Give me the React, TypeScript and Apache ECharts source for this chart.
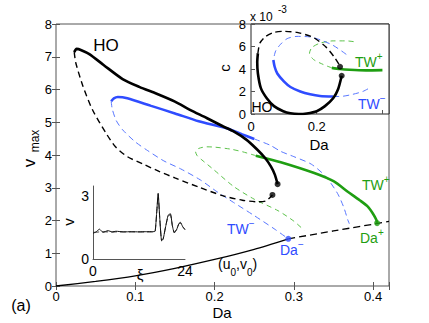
import React, { useEffect, useRef } from "react";
import * as echarts from "echarts";

// ---------- main panel data (Da, v_max) ----------
const hoSolid = [
  [0.023, 7.14], [0.026, 7.24], [0.032, 7.2], [0.042, 7.08], [0.06, 6.75], [0.084, 6.32],
  [0.105, 6.08], [0.127, 5.87], [0.15, 5.63], [0.169, 5.38], [0.19, 5.13], [0.211, 4.87],
  [0.224, 4.72], [0.24, 4.47], [0.254, 4.16], [0.264, 3.9], [0.271, 3.65], [0.276, 3.4], [0.2795, 3.11],
];
const hoDashed = [
  [0.023, 7.14], [0.025, 6.81], [0.034, 6.1], [0.046, 5.38], [0.063, 4.67], [0.075, 4.25],
  [0.09, 3.95], [0.11, 3.72], [0.13, 3.5], [0.15, 3.3], [0.18, 3.02], [0.21, 2.76],
  [0.235, 2.62], [0.255, 2.57], [0.265, 2.6], [0.273, 2.78],
];
const twMinusSolid = [
  [0.0696, 5.64], [0.073, 5.73], [0.078, 5.77], [0.09, 5.73], [0.12, 5.5], [0.15, 5.27],
  [0.18, 5.03], [0.215, 4.82], [0.235, 4.63], [0.25, 4.49],
];
const twMinusDashedUpper = [
  [0.25, 4.49], [0.27, 4.3], [0.2835, 4.11], [0.3, 3.95], [0.322, 3.72], [0.34, 3.35],
  [0.355, 2.83], [0.363, 2.4], [0.368, 2.02], [0.37, 1.9],
];
const twMinusDashedLower = [
  [0.0696, 5.64], [0.071, 5.4], [0.076, 5.05], [0.084, 4.77], [0.1, 4.4], [0.114, 4.16],
  [0.136, 3.82], [0.157, 3.58], [0.182, 3.24], [0.203, 2.88], [0.224, 2.55], [0.25, 2.15],
  [0.275, 1.75], [0.293, 1.44],
];
const twPlusSolid = [
  [0.252, 3.98], [0.2835, 3.78], [0.3257, 3.45], [0.35, 3.2], [0.368, 2.88], [0.383, 2.62],
  [0.393, 2.43], [0.4, 2.2], [0.404, 2.02], [0.405, 1.92],
];
const twPlusDashed = [
  [0.252, 3.98], [0.235, 4.1], [0.22, 4.18], [0.2, 4.24], [0.19, 4.25], [0.18, 4.2],
  [0.176, 4.1], [0.178, 3.98], [0.184, 3.85], [0.199, 3.55], [0.224, 3.04], [0.25, 2.65],
  [0.28, 2.3], [0.3, 1.98], [0.313, 1.7],
];
const u0v0Solid = [
  [0, 0], [0.05, 0.14], [0.1, 0.31], [0.15, 0.54], [0.2, 0.81], [0.25, 1.12], [0.293, 1.44],
];
const u0v0Dashed = [[0.293, 1.44], [0.35, 1.68], [0.42, 1.97]];
const hoEnds = [[0.2795, 3.11], [0.273, 2.78]];
const daMinus = [[0.293, 1.44]];
const daPlus = [[0.405, 1.92]];

// ---------- inset (Da, c x 1e-3) ----------
const insHoSolid = [
  [0.021, 5.4], [0.019, 4.6], [0.021, 3.6], [0.03, 2.3], [0.048, 1.4], [0.07, 0.7],
  [0.098, 0.25], [0.12, 0.06], [0.145, 0], [0.17, 0.05], [0.2, 0.25], [0.225, 0.7],
  [0.25, 1.4], [0.265, 2.2], [0.276, 3.4],
];
const insHoDashed = [
  [0.021, 5.4], [0.027, 6.3], [0.045, 6.9], [0.07, 7.25], [0.1, 7.35], [0.14, 7.25],
  [0.19, 6.8], [0.23, 5.9], [0.255, 5.0], [0.268, 4.4], [0.271, 4.2],
];
const insTwMinusDashedUpper = [
  [0.29, 5.3], [0.25, 6.1], [0.21, 6.6], [0.18, 6.85], [0.14, 6.9], [0.11, 6.7],
  [0.09, 6.2], [0.075, 5.6], [0.068, 4.8],
];
const insTwMinusSolid = [
  [0.068, 4.8], [0.072, 4.2], [0.08, 3.6], [0.1, 2.9], [0.12, 2.4], [0.15, 2.0],
  [0.18, 1.75], [0.21, 1.6], [0.25, 1.55],
];
const insTwMinusDashedLower = [[0.25, 1.55], [0.28, 1.58], [0.31, 1.75], [0.34, 2.0], [0.36, 2.3]];
const insTwPlusSolid = [[0.246, 4.1], [0.27, 4.0], [0.3, 3.93], [0.35, 3.88], [0.4, 3.9]];
const insTwPlusDashed = [
  [0.246, 4.1], [0.22, 4.4], [0.19, 4.85], [0.178, 5.4], [0.185, 5.9], [0.21, 6.3],
  [0.25, 6.5], [0.29, 6.5], [0.32, 6.4],
];
const insHoEnds = [[0.271, 4.2], [0.276, 3.4]];

// ---------- profile inset (xi, v) ----------
const profileXi = [0, 0.8, 1.7, 2.6, 3.9, 5, 6, 8, 10, 12, 14, 15.5, 16.2, 16.6, 17.0, 17.4, 17.9, 18.3, 19, 19.6, 20.2, 20.7, 21.2, 21.8, 22.4, 22.8, 23.4, 24];
const profileSolid = [1.23, 1.3, 1.43, 1.28, 1.36, 1.3, 1.33, 1.3, 1.31, 1.3, 1.31, 1.31, 1.33, 2.2, 3.15, 2.0, 0.87, 0.95, 1.6, 2.1, 2.17, 1.6, 1.25, 1.4, 1.7, 1.76, 1.55, 1.4];
const profileDashed = [1.28, 1.28, 1.3, 1.3, 1.3, 1.29, 1.3, 1.3, 1.3, 1.3, 1.3, 1.3, 1.32, 2.15, 3.1, 2.0, 0.9, 0.98, 1.6, 2.05, 2.12, 1.6, 1.28, 1.42, 1.68, 1.72, 1.55, 1.42];

const FONT = '"Liberation Sans", Arial, Helvetica, sans-serif';
const BLACK = "#000";
const BLUE = "#2f4cff";
const BLUE_D = "#5877ff";
const GREEN = "#1f9e12";
const GREEN_D = "#5cc24a";
const AXIS = "#555";

function line(data: number[][], idx: number, color: string, width: number, dashed: number[] | null, z: number) {
  return {
    type: "line", xAxisIndex: idx, yAxisIndex: idx, data, symbol: "none", showSymbol: false,
    smooth: 0.25, silent: true, z,
    lineStyle: { color, width, type: dashed ? dashed : "solid", cap: "butt" },
  };
}
function dots(data: number[][], idx: number, color: string, size: number, z: number) {
  return {
    type: "scatter", xAxisIndex: idx, yAxisIndex: idx, data, symbol: "circle", symbolSize: size,
    itemStyle: { color }, silent: true, z,
  };
}
function txt(x: number, y: number, text: string, size: number, color: string, align = "center", rot = 0, rich?: any) {
  return {
    type: "text", x, y, rotation: rot, z: 100, silent: true,
    style: { text, fontSize: size, fontFamily: FONT, fill: color, align, verticalAlign: "middle", rich },
  };
}
const supRich = (size: number, color: string) => ({
  b: { fontSize: size, fontFamily: FONT, color, lineHeight: size + 4, verticalAlign: "bottom" },
  s: { fontSize: Math.round(size * 0.68), fontFamily: FONT, color, lineHeight: size + 4, verticalAlign: "top" },
});
const subRich = (size: number, color: string) => ({
  b: { fontSize: size, fontFamily: FONT, color, lineHeight: size + 2, verticalAlign: "top" },
  s: { fontSize: Math.round(size * 0.7), fontFamily: FONT, color, lineHeight: size + 6, verticalAlign: "bottom" },
});

const tickLbl = { fontSize: 13, fontFamily: FONT, color: "#000" };

export default function App() {
  const ref = useRef<HTMLDivElement>(null);
  useEffect(() => {
    const chart = echarts.init(ref.current!, null, { renderer: "svg" });
    const axisCommon = (extra: any) => ({
      type: "value", splitLine: { show: false },
      axisLine: { show: false, lineStyle: { color: AXIS } },
      axisTick: { show: true, inside: true, length: 4, lineStyle: { color: AXIS } },
      ...extra,
    });
    const option: any = {
      animation: false,
      backgroundColor: "#fff",
      textStyle: { fontFamily: FONT },
      grid: [
        { left: 56, top: 24, width: 333, height: 262, show: true, borderColor: AXIS, borderWidth: 1, backgroundColor: "transparent", z: 0 },
        { left: 251, top: 24, width: 138, height: 90, show: true, borderColor: "#222", borderWidth: 1, backgroundColor: "#fff", z: 5 },
        { left: 93, top: 186, width: 92, height: 73, show: false, z: 5 },
      ],
      xAxis: [
        axisCommon({
          gridIndex: 0, min: 0, max: 0.42, interval: 0.1, position: "bottom",
          axisLabel: { ...tickLbl, margin: 4, formatter: (v: number) => Math.abs(v * 10 - Math.round(v * 10)) < 1e-6 ? (v === 0 ? "0" : v.toFixed(1)) : "" },
        }),
        axisCommon({ gridIndex: 1, min: 0, max: 0.42, interval: 0.2, z: 6,
          axisLabel: { ...tickLbl, margin: 6, formatter: (v: number) => (v === 0 ? "0" : Math.abs(v - 0.2) < 1e-6 ? "0.2" : "") } }),
        axisCommon({ gridIndex: 2, min: 0, max: 24, interval: 24, z: 6,
          axisLine: { show: true, lineStyle: { color: AXIS, width: 1 } },
          axisTick: { show: false },
          axisLabel: { ...tickLbl, fontSize: 14, margin: 5, formatter: (v: number) => (v === 0 ? "0" : v === 24 ? "24" : "") } }),
        axisCommon({ gridIndex: 0, min: 0, max: 0.42, interval: 0.1, position: "top", axisLabel: { show: false } }),
      ],
      yAxis: [
        axisCommon({ gridIndex: 0, min: 0, max: 8, interval: 1, position: "left",
          axisLabel: { ...tickLbl, margin: 4, formatter: (v: number) => (Number.isInteger(v) ? String(v) : "") } }),
        axisCommon({ gridIndex: 1, min: 0, max: 8, interval: 2, z: 6,
          axisLabel: { ...tickLbl, margin: 5, formatter: (v: number) => String(v) } }),
        axisCommon({ gridIndex: 2, min: 0, max: 3.5, interval: 3, z: 6,
          axisLine: { show: true, lineStyle: { color: AXIS, width: 1 } },
          axisTick: { show: false },
          axisLabel: { ...tickLbl, fontSize: 14, margin: 4, formatter: (v: number) => (v === 0 ? "0" : v === 3 ? "3" : "") } }),
        axisCommon({ gridIndex: 0, min: 0, max: 8, interval: 1, position: "right", axisLabel: { show: false } }),
      ],
      series: [
        // main
        line(u0v0Solid, 0, BLACK, 1.3, null, 2),
        line(u0v0Dashed, 0, BLACK, 1.3, [7, 4], 2),
        line(twPlusDashed, 0, GREEN_D, 1, [5, 4], 2),
        line(twMinusDashedLower, 0, BLUE_D, 1, [6, 4], 2),
        line(twMinusDashedUpper, 0, BLUE_D, 1, [6, 4], 2),
        line(hoDashed, 0, BLACK, 1.4, [6, 4], 2),
        line(twMinusSolid, 0, BLUE, 2.6, null, 3),
        line(twPlusSolid, 0, GREEN, 2.6, null, 3),
        line(hoSolid, 0, BLACK, 2.6, null, 3),
        dots(hoEnds, 0, BLACK, 6, 4),
        dots(daMinus, 0, BLUE, 6, 4),
        dots(daPlus, 0, GREEN, 6, 4),
        // top-right inset
        line(insTwPlusDashed, 1, GREEN_D, 1, [5, 4], 7),
        line(insTwMinusDashedUpper, 1, BLUE_D, 1, [6, 4], 7),
        line(insTwMinusDashedLower, 1, BLUE_D, 1, [6, 4], 7),
        line(insHoDashed, 1, BLACK, 1.4, [6, 4], 7),
        line(insTwMinusSolid, 1, BLUE, 2.6, null, 8),
        line(insTwPlusSolid, 1, GREEN, 2.6, null, 8),
        line(insHoSolid, 1, BLACK, 2.6, null, 8),
        dots(insHoEnds, 1, BLACK, 6, 9),
        // profile inset
        { ...line(profileXi.map((x, i) => [x, profileDashed[i]]), 2, "#333", 1, [6, 3], 7), smooth: 0.15 },
        { ...line(profileXi.map((x, i) => [x, profileSolid[i]]), 2, "#111", 1, null, 7), smooth: 0.15 },
      ],
      graphic: [
        // axis titles
        txt(222, 312, "Da", 15, BLACK),
        txt(29, 163, "v", 17, BLACK, "center", Math.PI / 2),
        txt(35, 141, "max", 12, BLACK, "center", Math.PI / 2),
        txt(224, 68, "c", 15, BLACK, "center", Math.PI / 2),
        txt(319, 144, "Da", 15, BLACK),
        txt(250, 16.5, "x 10", 12, BLACK, "left"),
        txt(278, 9, "-3", 10, BLACK, "left"),
        txt(68, 222, "v", 15, BLACK, "center", Math.PI / 2),
        txt(140, 274, "ξ", 15, BLACK),
        // annotations
        txt(106, 45, "HO", 17, BLACK),
        txt(262, 107, "HO", 14, BLACK),
        txt(21, 305, "(a)", 16, BLACK),
        txt(362, 183, "{b|TW}{s|+}", 14, GREEN, "left", 0, supRich(14, GREEN)),
        txt(360, 236, "{b|Da}{s|+}", 14, GREEN, "left", 0, supRich(14, GREEN)),
        txt(227, 227, "{b|TW}{s|−}", 14, BLUE, "left", 0, supRich(14, BLUE)),
        txt(280, 248, "{b|Da}{s|−}", 14, BLUE, "left", 0, supRich(14, BLUE)),
        txt(355, 60, "{b|TW}{s|+}", 14, GREEN, "left", 0, supRich(14, GREEN)),
        txt(358, 102, "{b|TW}{s|−}", 14, BLUE, "left", 0, supRich(14, BLUE)),
        txt(218, 267, "{b|(u}{s|0}{b|,v}{s|0}{b|)}", 14, BLACK, "left", 0, subRich(14, BLACK)),
      ],
    };
    chart.setOption(option);
    return () => chart.dispose();
  }, []);
  return <div ref={ref} style={{ position: "fixed", left: 0, top: 0, width: 429, height: 323 }} />;
}
